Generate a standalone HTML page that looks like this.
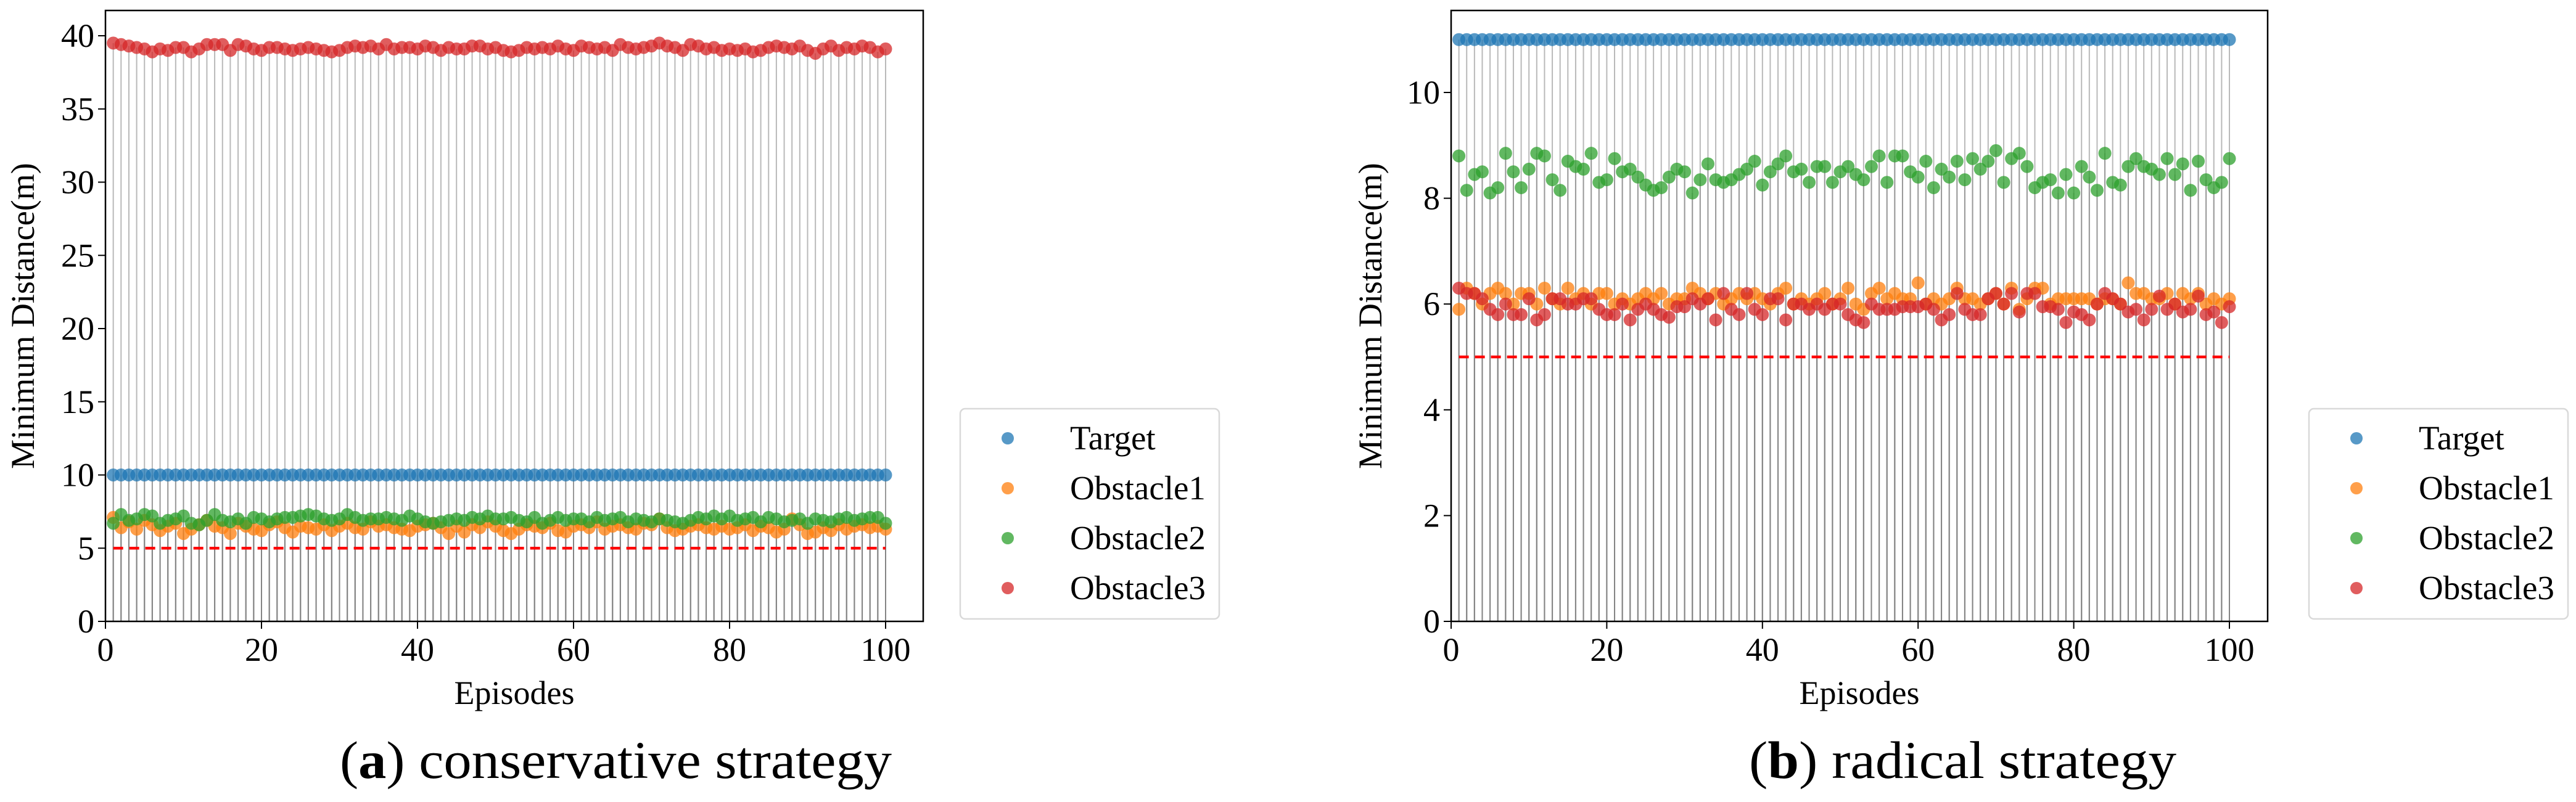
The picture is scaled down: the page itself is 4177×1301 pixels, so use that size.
<!DOCTYPE html>
<html><head><meta charset="utf-8"><style>
html,body{margin:0;padding:0;background:#fff;}
svg{display:block;font-family:"Liberation Serif",serif;}
</style></head><body>
<svg id="fig" width="4177" height="1301" viewBox="0 0 4177 1301" xmlns="http://www.w3.org/2000/svg"></svg>
<script>
const episodes = Array.from({length:100},(_,i)=>i+1);
const seriesNames = ["Target","Obstacle1","Obstacle2","Obstacle3"];
const seriesColors = ["#1f77b4","#ff7f0e","#2ca02c","#d62728"];
const xTicks = [0,20,40,60,80,100];
const yTicksA = [0,5,10,15,20,25,30,35,40];
const yTicksB = [0,2,4,6,8,10];
const thresholdA = 5;
const thresholdB = 5;

const targetA = Array(100).fill(10);
const obs1A = [7.1,6.4,6.8,6.3,6.9,6.6,6.2,6.5,6.7,6.0,6.3,6.6,6.9,6.5,6.4,6.0,6.7,6.5,6.3,6.2,6.6,6.8,6.4,6.1,6.5,6.4,6.3,6.6,6.2,6.5,6.7,6.4,6.3,6.8,6.5,6.6,6.4,6.3,6.2,6.5,6.6,6.7,6.4,6.0,6.5,6.1,6.6,6.4,6.8,6.5,6.2,6.0,6.3,6.6,6.5,6.4,6.7,6.2,6.1,6.5,6.6,6.4,6.8,6.3,6.5,6.6,6.4,6.3,6.7,6.6,7.0,6.4,6.2,6.3,6.5,6.6,6.4,6.3,6.5,6.3,6.4,6.6,6.2,6.5,6.4,6.1,6.3,7.0,6.6,6.0,6.1,6.4,6.2,6.6,6.3,6.5,6.6,6.4,6.5,6.3];
const obs2A = [6.7,7.3,6.9,7.0,7.3,7.2,6.7,6.9,7.0,7.2,6.7,6.6,6.9,7.3,6.9,6.8,7.0,6.7,7.1,7.0,6.8,7.0,7.1,7.1,7.2,7.3,7.2,7.0,6.9,7.0,7.3,7.1,6.9,7.0,7.0,7.1,7.0,6.9,7.2,7.0,6.8,6.7,6.8,6.9,7.0,6.9,7.1,7.0,7.2,7.0,7.0,7.1,6.9,6.8,7.1,6.7,6.9,7.1,6.9,7.0,7.0,6.8,7.1,6.9,7.0,7.1,6.8,7.0,6.9,6.8,7.0,6.9,6.8,6.7,6.9,7.1,7.0,7.2,7.0,7.2,6.9,7.0,7.1,6.8,7.1,7.0,6.8,6.9,7.0,6.7,7.0,6.9,6.8,7.0,7.1,6.9,7.0,7.1,7.1,6.7];
const obs3A = [39.5,39.4,39.3,39.2,39.1,38.9,39.1,39.0,39.2,39.2,38.9,39.1,39.4,39.4,39.4,39.0,39.4,39.3,39.1,39.0,39.2,39.2,39.1,39.0,39.1,39.2,39.1,39.0,38.9,39.0,39.2,39.3,39.2,39.3,39.1,39.4,39.1,39.2,39.2,39.1,39.3,39.2,39.0,39.2,39.1,39.1,39.3,39.3,39.1,39.2,39.0,38.9,39.0,39.2,39.1,39.2,39.1,39.3,39.1,39.0,39.3,39.2,39.1,39.2,39.0,39.4,39.2,39.1,39.2,39.3,39.5,39.3,39.2,39.0,39.4,39.3,39.1,39.2,39.0,39.1,39.0,39.1,38.9,39.0,39.2,39.3,39.2,39.1,39.3,39.0,38.8,39.1,39.3,39.0,39.2,39.1,39.3,39.2,38.9,39.1];

const targetB = Array(100).fill(11);
const obs1B = [5.9,6.3,6.2,6.0,6.2,6.3,6.2,6.0,6.2,6.2,6.0,6.3,6.1,6.0,6.3,6.1,6.2,6.0,6.2,6.2,6.0,6.1,6.0,6.1,6.2,6.1,6.2,6.0,6.1,6.1,6.3,6.2,6.1,6.2,6.0,6.1,6.2,6.1,6.2,6.1,6.0,6.2,6.3,6.0,6.1,6.0,6.1,6.2,6.0,6.1,6.3,6.0,5.9,6.2,6.3,6.1,6.2,6.1,6.1,6.4,6.0,6.1,6.0,6.1,6.3,6.1,6.1,6.0,6.1,6.2,6.0,6.3,5.9,6.1,6.3,6.3,6.0,6.1,6.1,6.1,6.1,6.1,6.0,6.1,6.1,6.0,6.4,6.2,6.2,6.1,6.1,6.2,6.0,6.2,6.1,6.2,6.0,6.1,6.0,6.1];
const obs2B = [8.8,8.15,8.45,8.5,8.1,8.2,8.85,8.5,8.2,8.55,8.85,8.8,8.35,8.15,8.7,8.6,8.55,8.85,8.3,8.35,8.75,8.5,8.55,8.4,8.25,8.15,8.2,8.4,8.55,8.5,8.1,8.35,8.65,8.35,8.3,8.35,8.45,8.55,8.7,8.25,8.5,8.65,8.8,8.5,8.55,8.3,8.6,8.6,8.3,8.5,8.6,8.45,8.35,8.6,8.8,8.3,8.8,8.8,8.5,8.4,8.7,8.2,8.55,8.4,8.7,8.35,8.75,8.55,8.7,8.9,8.3,8.75,8.85,8.6,8.2,8.3,8.35,8.1,8.45,8.1,8.6,8.4,8.15,8.85,8.3,8.25,8.6,8.75,8.6,8.55,8.45,8.75,8.45,8.65,8.15,8.7,8.35,8.2,8.3,8.75];
const obs3B = [6.3,6.2,6.2,6.1,5.9,5.8,6.0,5.8,5.8,6.1,5.7,5.8,6.1,6.1,6.0,6.0,6.1,6.1,5.9,5.8,5.8,6.0,5.7,5.9,6.0,5.9,5.8,5.75,5.95,5.95,6.1,6.0,6.1,5.7,6.2,5.9,5.8,6.2,5.9,5.8,6.1,6.1,5.7,6.0,6.0,5.9,6.0,5.9,6.0,6.0,5.8,5.7,5.65,6.0,5.9,5.9,5.9,5.95,5.95,5.95,6.0,5.9,5.7,5.8,6.2,5.9,5.8,5.8,6.1,6.2,6.0,6.2,5.85,6.2,6.2,5.95,5.95,5.9,5.65,5.85,5.8,5.7,6.0,6.2,6.1,6.0,5.85,5.9,5.7,5.9,6.15,5.9,6.0,5.85,5.9,6.15,5.8,5.85,5.65,5.95];

const NS="http://www.w3.org/2000/svg";
const svg=document.getElementById('fig');
function mk(tag,attrs,parent){const e=document.createElementNS(NS,tag);for(const k in attrs)e.setAttribute(k,attrs[k]);(parent||svg).appendChild(e);return e;}

function panel(cfg){
  const g=mk('g',{});
  
  
  const X=v=>cfg.x0+(v)*(cfg.x100-cfg.x0)/100;
  const Y=v=>cfg.yb-(v)*cfg.ppu;
  const series=cfg.series;
  series.forEach((s,si)=>{
    s.forEach((v,i)=>{
      const l=mk('line',{x1:X(episodes[i]),x2:X(episodes[i]),y1:Y(0),y2:Y(v),stroke:'#7f7f7f','stroke-width':2,'stroke-opacity':0.55},g);
      
      
    });
  });
  const th=mk('line',{x1:X(1),x2:X(100),y1:Y(cfg.threshold),y2:Y(cfg.threshold),stroke:'#ff0000','stroke-width':4.5,'stroke-dasharray':'16 10'},g);
  
  
  series.forEach((s,si)=>{
    s.forEach((v,i)=>{
      const c=mk('circle',{cx:X(episodes[i]),cy:Y(v),r:10.5,fill:seriesColors[si],'fill-opacity':0.75},g);
      
      
    });
  });
  const fr=mk('rect',{x:cfg.left,y:cfg.top,width:cfg.right-cfg.left,height:cfg.yb-cfg.top,fill:'none',stroke:'#000','stroke-width':2.5},g);
  
  
  xTicks.forEach(t=>{
    const tl=mk('line',{x1:X(t),x2:X(t),y1:cfg.yb,y2:cfg.yb+12,stroke:'#000','stroke-width':2},g);
    
    
    const tx=mk('text',{x:X(t),y:cfg.yb+64,'text-anchor':'middle','font-size':54},g);
    tx.textContent=t;
    
    
  });
  cfg.yTicks.forEach(t=>{
    const tl=mk('line',{x1:cfg.left-12,x2:cfg.left,y1:Y(t),y2:Y(t),stroke:'#000','stroke-width':2},g);
    
    
    const tx=mk('text',{x:cfg.left-18,y:Y(t)+18,'text-anchor':'end','font-size':54},g);
    tx.textContent=t;
    
    
  });
  const xl=mk('text',{x:(cfg.left+cfg.right)/2,y:1142,'text-anchor':'middle','font-size':54},g);
  xl.textContent='Episodes';
  
  
  const yl=mk('text',{x:0,y:0,'text-anchor':'middle','font-size':54,transform:`translate(${cfg.ylx},${(cfg.top+cfg.yb)/2}) rotate(-90)`},g);
  yl.textContent='Minimum Distance(m)';
  
  
  const lg=mk('g',{},g);
  
  
  const lr=mk('rect',{x:cfg.lgx,y:663,width:420,height:341,rx:8,fill:'#fff',stroke:'#d9d9d9','stroke-width':2.5},lg);
  
  
  seriesNames.forEach((n,i)=>{
    const yy=711+i*81;
    const m=mk('circle',{cx:cfg.lgx+77,cy:yy,r:10,fill:seriesColors[i],'fill-opacity':0.75},lg);
    
    
    const t=mk('text',{x:cfg.lgx+178,y:yy+18,'font-size':55},lg);
    t.textContent=n;
    
    
  });
  const cap=mk('text',{x:cfg.capx0,y:1262,'font-size':86,textLength:cfg.capw,lengthAdjust:'spacingAndGlyphs'},g);
  
  
  cap.innerHTML='(<tspan font-weight="bold">'+cfg.letter+'</tspan>) '+cfg.caption;
}

panel({name:'panel-conservative',left:171,right:1497,top:17,yb:1008,x0:171,x100:1436,ppu:23.75,
  series:[targetA,obs1A,obs2A,obs3A],threshold:thresholdA,yTicks:yTicksA,ylx:55,lgx:1557,capx0:551,capw:895,
  letter:'a',caption:'conservative strategy'});
panel({name:'panel-radical',left:2353,right:3677,top:17,yb:1008,x0:2353,x100:3615,ppu:85.8,
  series:[targetB,obs1B,obs2B,obs3B],threshold:thresholdB,yTicks:yTicksB,ylx:2240,lgx:3744,capx0:2836,capw:693,
  letter:'b',caption:'radical strategy'});
</script>
</body></html>
